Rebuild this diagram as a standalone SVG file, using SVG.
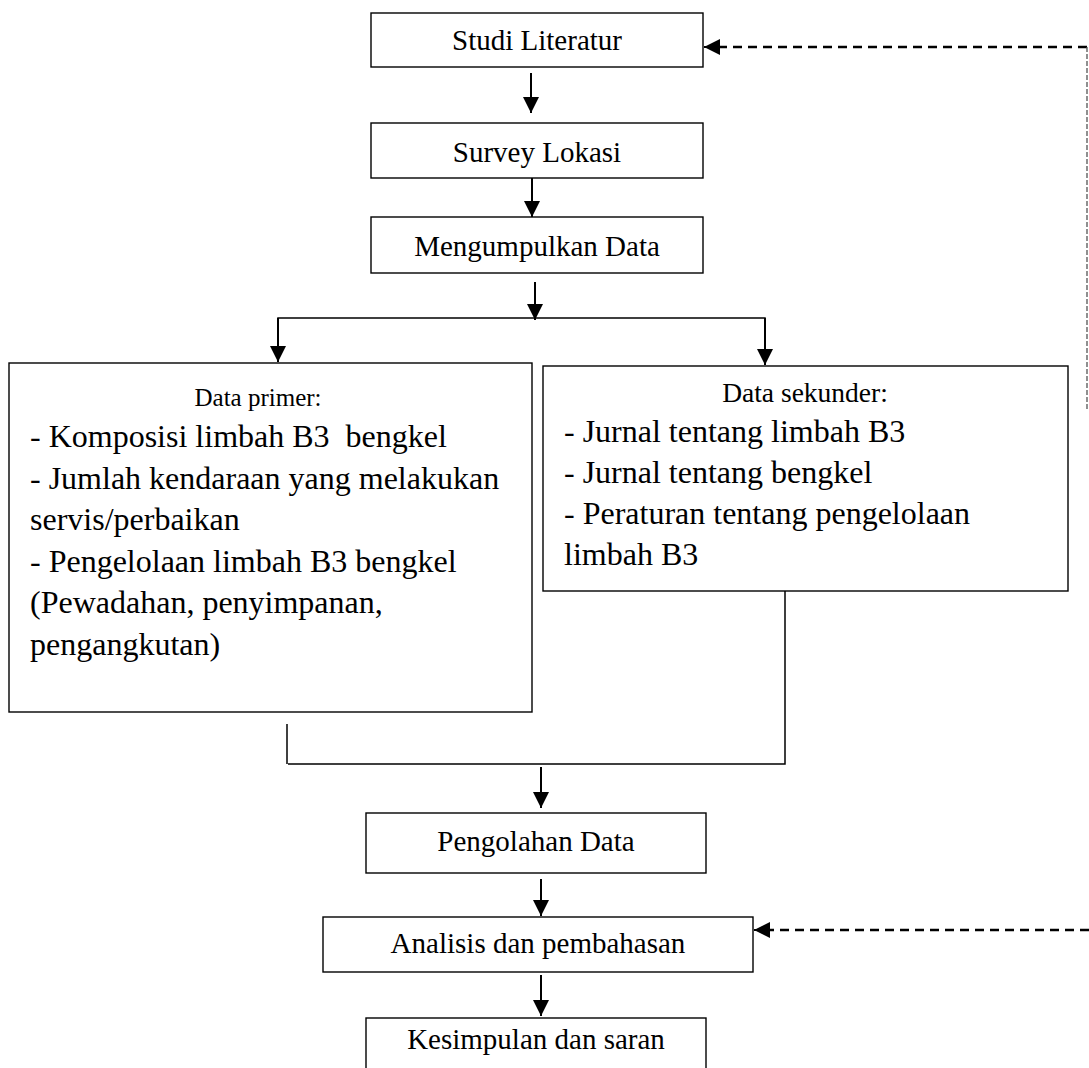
<svg xmlns="http://www.w3.org/2000/svg" width="1089" height="1068" viewBox="0 0 1089 1068">
<style>
.box{fill:#fff;stroke:#000;stroke-width:1.4}
.t{font-family:"Liberation Serif","Times New Roman",serif;fill:#000;white-space:pre}
.c{text-anchor:middle;font-size:29px}
.h{font-size:25px;text-anchor:middle}
.l{font-size:32px}
.ln{fill:none;stroke:#000;stroke-width:1.5}
.ar{fill:none;stroke:#000;stroke-width:2;marker-end:url(#ah)}
.ds{fill:none;stroke:#000;stroke-width:2.5;stroke-dasharray:9 6}
.dv{fill:none;stroke:#555;stroke-width:1.3;stroke-dasharray:5 2}
</style>
<defs>
<marker id="ah" markerUnits="userSpaceOnUse" markerWidth="16" markerHeight="18" refX="16" refY="8" orient="auto">
<path d="M0,0 L16,8 L0,16 Z" fill="#000"/>
</marker>
</defs>
<rect width="1089" height="1068" fill="#fff"/>
<g id="connectors">
<line class="ar" x1="531" y1="73" x2="531" y2="113"/>
<line class="ar" x1="532" y1="178" x2="532" y2="217"/>
<line class="ar" x1="535" y1="282" x2="535" y2="320"/>
<polyline class="ln" points="278,357 278,318 765,318 765,360"/>
<line class="ar" x1="278" y1="318" x2="278" y2="362"/>
<line class="ar" x1="765" y1="318" x2="765" y2="365"/>
<polyline class="ln" points="785,591 785,764 288,764"/>
<line class="ln" x1="287" y1="724" x2="287" y2="764"/>
<line class="ar" x1="541" y1="767" x2="541" y2="808"/>
<line class="ar" x1="541" y1="879" x2="541" y2="916"/>
<line class="ar" x1="541" y1="975" x2="541" y2="1016"/>
<polyline class="ds" points="1089,930 768,930"/>
<line class="ar" x1="770" y1="930" x2="754" y2="930"/>
<polyline class="ds" points="1087,47 720,47"/>
<line class="ar" x1="722" y1="47" x2="704" y2="47"/>
<line class="dv" x1="1087" y1="47" x2="1087" y2="410"/>
</g>
<g id="n1"><rect class="box" x="371" y="13" width="332" height="54"/><text class="t c" x="537" y="50">Studi Literatur</text></g>
<g id="n2"><rect class="box" x="371" y="123" width="332" height="55"/><text class="t c" x="537" y="162">Survey Lokasi</text></g>
<g id="n3"><rect class="box" x="371" y="217" width="332" height="56"/><text class="t c" x="537" y="256">Mengumpulkan Data</text></g>
<g id="n4"><rect class="box" x="9" y="363" width="523" height="349"/>
<text class="t h" x="258" y="406">Data primer:</text>
<text class="t l" x="30" y="447" xml:space="preserve">- Komposisi limbah B3  bengkel</text>
<text class="t l" x="30" y="489">- Jumlah kendaraan yang melakukan</text>
<text class="t l" x="30" y="530">servis/perbaikan</text>
<text class="t l" x="30" y="572">- Pengelolaan limbah B3 bengkel</text>
<text class="t l" x="30" y="613">(Pewadahan, penyimpanan,</text>
<text class="t l" x="30" y="655">pengangkutan)</text>
</g>
<g id="n5"><rect class="box" x="543" y="366" width="525" height="225"/>
<text class="t h" x="805" y="402" style="font-size:27.5px">Data sekunder:</text>
<text class="t l" x="564" y="442">- Jurnal tentang limbah B3</text>
<text class="t l" x="564" y="483">- Jurnal tentang bengkel</text>
<text class="t l" x="564" y="524">- Peraturan tentang pengelolaan</text>
<text class="t l" x="564" y="565">limbah B3</text>
</g>
<g id="n6"><rect class="box" x="366" y="813" width="340" height="60"/><text class="t c" x="536" y="851">Pengolahan Data</text></g>
<g id="n7"><rect class="box" x="323" y="917" width="430" height="55"/><text class="t c" x="538" y="953">Analisis dan pembahasan</text></g>
<g id="n8"><rect class="box" x="366" y="1018" width="340" height="60"/><text class="t c" x="536" y="1049">Kesimpulan dan saran</text></g>
</svg>
